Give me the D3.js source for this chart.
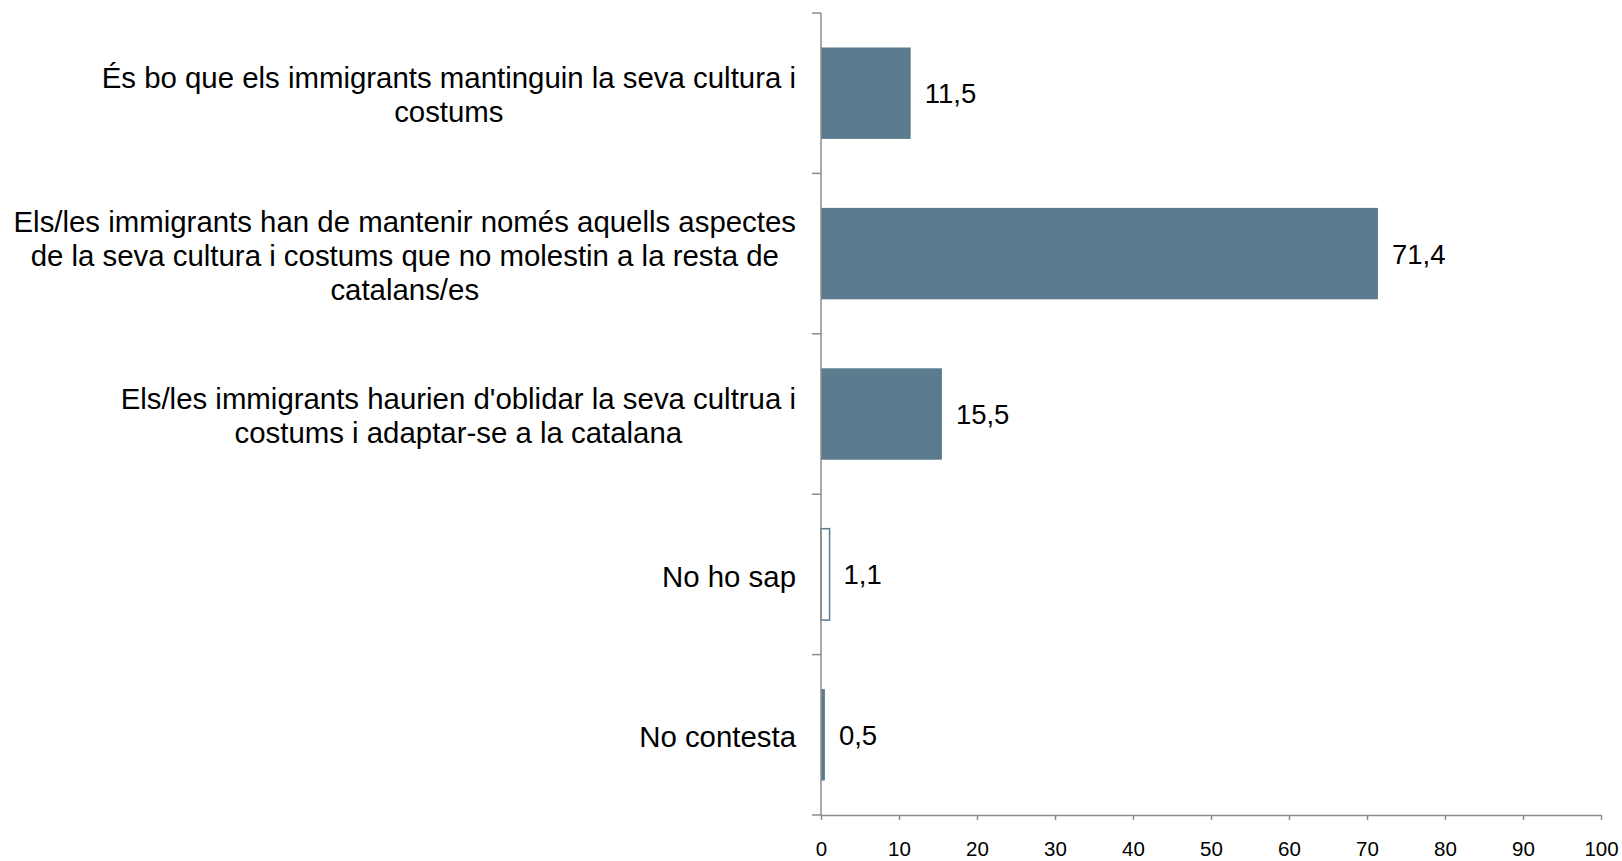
<!DOCTYPE html>
<html>
<head>
<meta charset="utf-8">
<script src="https://cdn.jsdelivr.net/npm/d3@7"></script>
<style>
  html, body { margin: 0; padding: 0; background: #fff; }
  svg { display: block; font-family: "Liberation Sans", Arial, sans-serif; }
</style>
</head>
<body>
<svg id="chart" width="1622" height="861"></svg>
<script>
// ---- Data ----
const categories = [
  "És bo que els immigrants mantinguin la seva cultura i\ncostums",
  "Els/les immigrants han de mantenir només aquells aspectes\nde la seva cultura i costums que no molestin a la resta de\ncatalans/es",
  "Els/les immigrants haurien d'oblidar la seva cultrua i\ncostums i adaptar-se a la catalana",
  "No ho sap",
  "No contesta"
];
const values = [11.5, 71.4, 15.5, 1.1, 0.5];
const valueLabels = ["11,5", "71,4", "15,5", "1,1", "0,5"];
const outlined = [false, false, false, true, false];
const xTicks = [0, 10, 20, 30, 40, 50, 60, 70, 80, 90, 100];

(function () {
// ---- Layout ----
const plotLeft = 821, plotRight = 1601, plotTop = 13, plotBottom = 815;
const barColor = "#5b7c8e";
const axisColor = "#8c8c8c";

const svg = d3.select("#chart");

const x = d3.scaleLinear().domain([0, 100]).range([plotLeft, plotRight]);
const y = d3.scaleBand().domain(categories).range([plotTop, plotBottom])
  .paddingInner(0.43).paddingOuter(0.215);
const yb = d3.scaleBand().domain(categories).range([plotTop, plotBottom]).padding(0);

// bars
svg.append("g").selectAll("rect")
  .data(values)
  .join("rect")
  .attr("x", x(0))
  .attr("y", (d, i) => y(categories[i]))
  .attr("width", d => x(d) - x(0))
  .attr("height", y.bandwidth())
  .attr("fill", (d, i) => outlined[i] ? "#fff" : barColor)
  .attr("stroke", (d, i) => outlined[i] ? barColor : "none")
  .attr("stroke-width", 1.5);

// value labels
svg.append("g").selectAll("text")
  .data(values)
  .join("text")
  .attr("x", d => x(d) + 14)
  .attr("y", (d, i) => y(categories[i]) + y.bandwidth() / 2)
  .attr("dy", "0.36em")
  .attr("font-size", 27.5)
  .attr("fill", "#000")
  .text((d, i) => valueLabels[i]);

// x axis
const xAxis = d3.axisBottom(x).tickValues(xTicks).tickSize(5).tickSizeOuter(0).tickPadding(21)
  .tickFormat(d3.format("d"));
const gx = svg.append("g").attr("transform", `translate(0,${plotBottom})`).call(xAxis);
gx.select(".domain").attr("stroke", axisColor).attr("stroke-width", 1.5);
gx.selectAll(".tick line").attr("stroke", axisColor).attr("stroke-width", 1.5);
gx.selectAll(".tick text").attr("font-size", 20.5).attr("fill", "#000")
  .attr("font-family", "'Liberation Sans', Arial, sans-serif");

// y axis line + boundary ticks
const gy = svg.append("g");
gy.append("line").attr("x1", plotLeft).attr("x2", plotLeft).attr("y1", plotTop).attr("y2", plotBottom)
  .attr("stroke", axisColor).attr("stroke-width", 1.5);
const bounds = categories.map(c => yb(c)).concat([yb(categories[categories.length - 1]) + yb.bandwidth()]);
gy.selectAll("line.tk").data(bounds).join("line").attr("class", "tk")
  .attr("x1", plotLeft - 9).attr("x2", plotLeft).attr("y1", d => d).attr("y2", d => d)
  .attr("stroke", axisColor).attr("stroke-width", 1.5);

// category labels (multi-line, centered block right-aligned near axis)
const labelRight = plotLeft - 25;
const lineH = 34;
const fs = 29.4;
const gl = svg.append("g").attr("font-size", fs).attr("fill", "#000");
categories.forEach((c, i) => {
  const lines = c.split("\n");
  const t = gl.append("text").attr("text-anchor", "middle");
  const cy = y(c) + y.bandwidth() / 2 + 2;
  const spans = lines.map((ln, k) => t.append("tspan")
    .attr("y", cy + (k - (lines.length - 1) / 2) * lineH)
    .attr("dy", "0.35em")
    .text(ln));
  let maxW = 0;
  spans.forEach(s => { maxW = Math.max(maxW, s.node().getComputedTextLength()); });
  const cx = labelRight - maxW / 2;
  spans.forEach(s => s.attr("x", cx));
});
})();
</script>
</body>
</html>
